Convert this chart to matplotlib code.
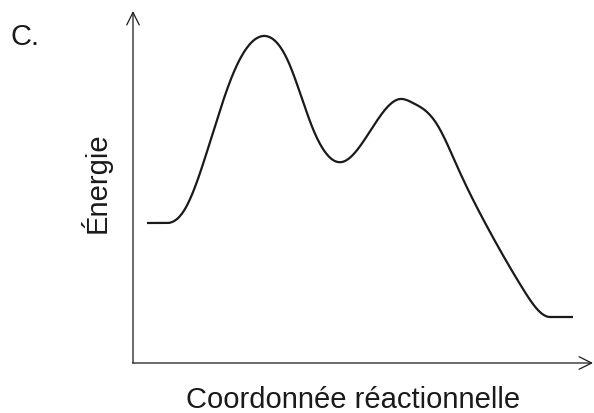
import numpy as np
import matplotlib
matplotlib.use("Agg")
import matplotlib.pyplot as plt

plt.rcParams['font.family'] = ['Liberation Sans', 'DejaVu Sans']

# Reaction coordinate and energy (arbitrary units)
coord = [14, 34, 52, 77, 100, 130, 155, 180, 209, 232, 267, 280, 294, 305,
         324, 357, 390, 417, 440]
energy = [140, 140, 154, 221, 289, 327, 302, 234, 201, 224, 264, 260, 251,
          237, 197, 131, 74, 46, 46]

panel_label = "C."
ylabel = "Énergie"
xlabel = "Coordonnée réactionnelle"


def clamped_spline(x, y, xs):
    """Cubic spline through the points with zero slope at both ends."""
    x = np.asarray(x, float); y = np.asarray(y, float)
    n = len(x); h = np.diff(x)
    A = np.zeros((n, n)); b = np.zeros(n)
    A[0, 0] = 2 * h[0]; A[0, 1] = h[0]
    b[0] = 3 * (y[1] - y[0]) / h[0]
    A[-1, -2] = h[-1]; A[-1, -1] = 2 * h[-1]
    b[-1] = -3 * (y[-1] - y[-2]) / h[-1]
    for i in range(1, n - 1):
        A[i, i - 1] = h[i - 1]; A[i, i] = 2 * (h[i - 1] + h[i]); A[i, i + 1] = h[i]
        b[i] = 3 * ((y[i + 1] - y[i]) / h[i] - (y[i] - y[i - 1]) / h[i - 1])
    c = np.linalg.solve(A, b)
    bcoef = (y[1:] - y[:-1]) / h - h * (2 * c[:-1] + c[1:]) / 3
    d = (c[1:] - c[:-1]) / (3 * h)
    k = np.clip(np.searchsorted(x, xs) - 1, 0, n - 2)
    t = xs - x[k]
    return y[k] + bcoef[k] * t + c[k] * t**2 + d[k] * t**3


fig = plt.figure(figsize=(5.94, 4.14), dpi=100)
ax = fig.add_axes([0, 0, 1, 1])
ax.set_xlim(-133, 461)
ax.set_ylim(-50, 364)
ax.axis('off')

# flat end plateaus drawn straight, the rest as a smooth spline
cx, ey = coord[1:-1], energy[1:-1]
xs = np.linspace(cx[0], cx[-1], 1200)
curve_x = np.concatenate([[coord[0]], xs, [coord[-1]]])
curve_y = np.concatenate([[energy[0]], clamped_spline(cx, ey, xs), [energy[-1]]])
ax.plot(curve_x, curve_y, color='#1a1a1a', lw=1.6, solid_capstyle='butt')

arrow = dict(arrowstyle='->,head_length=0.9,head_width=0.45', lw=0.9,
             color='#1a1a1a', shrinkA=0, shrinkB=0)
ax.annotate('', xy=(0, 352), xytext=(0, 0), arrowprops=arrow)
ax.annotate('', xy=(460, 0), xytext=(-0.5, 0), arrowprops=arrow)

ax.text(-123, 327, panel_label, fontsize=21, color='#1a1a1a',
        ha='left', va='center')
ax.text(-37, 181, ylabel, fontsize=21, color='#1a1a1a', rotation=90,
        ha='center', va='center')
ax.text(220, -36, xlabel, fontsize=21, color='#1a1a1a',
        ha='center', va='center')

fig.savefig('out.png', dpi=100)
